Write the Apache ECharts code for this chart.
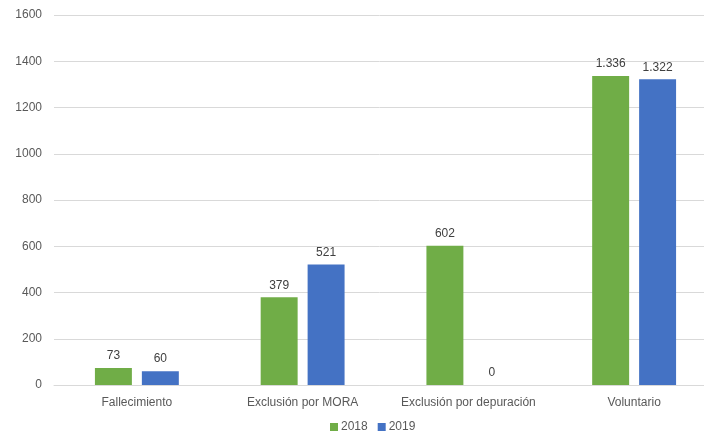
<!DOCTYPE html>
<html><head><meta charset="utf-8">
<script src="https://cdn.jsdelivr.net/npm/echarts@6/dist/echarts.min.js"></script>
<style>html,body{margin:0;padding:0;background:#fff;overflow:hidden}#c{width:704px;height:435px}</style>
</head><body><div id="c"></div>
<script>
const categories = ['Fallecimiento', 'Exclusión por MORA', 'Exclusión por depuración', 'Voluntario'];
const values2018 = [73, 379, 602, 1336];
const values2019 = [60, 521, 0, 1322];
const seriesNames = ['2018', '2019'];
const yTicks = [0, 200, 400, 600, 800, 1000, 1200, 1400, 1600];

const fmt = v => String(v).replace(/\B(?=(\d{3})+(?!\d))/g, '.');
const font = 'Liberation Sans, Arial, sans-serif';
const txt = '#595959';
const chart = echarts.init(document.getElementById('c'), null, {renderer: 'canvas'});
const lbl = {show: true, position: 'top', distance: 6, color: '#404040', fontSize: 12, fontFamily: font,
  formatter: p => fmt(p.value)};
chart.setOption({
  animation: false,
  textStyle: {fontFamily: font},
  grid: {left: 54, right: -13, top: 15, bottom: 50, containLabel: false, outerBoundsMode: 'none'},
  legend: {bottom: 2, left: 330, padding: 0, itemWidth: 8, itemHeight: 8, itemGap: 10, icon: 'rect',
    textStyle: {color: txt, fontSize: 12, fontFamily: font, padding: [0, 0, 0, -2]}, data: seriesNames},
  xAxis: {type: 'category', data: categories,
    axisLine: {lineStyle: {color: '#d9d9d9'}}, axisTick: {show: false},
    axisLabel: {color: txt, fontSize: 12, fontFamily: font, margin: 12, interval: 0}},
  yAxis: {type: 'value', min: yTicks[0], max: yTicks[yTicks.length - 1], interval: 200,
    axisLine: {show: false}, axisTick: {show: false},
    splitLine: {lineStyle: {color: '#d9d9d9'}},
    axisLabel: {color: txt, fontSize: 12, fontFamily: font, margin: 12, formatter: v => String(v)}},
  series: [
    {name: seriesNames[0], type: 'bar', data: values2018, barWidth: '22.3%', barGap: '27%',
      itemStyle: {color: '#70AD47'}, label: lbl},
    {name: seriesNames[1], type: 'bar', data: values2019, barWidth: '22.3%',
      itemStyle: {color: '#4472C4'}, label: lbl}
  ]
});
</script></body></html>
